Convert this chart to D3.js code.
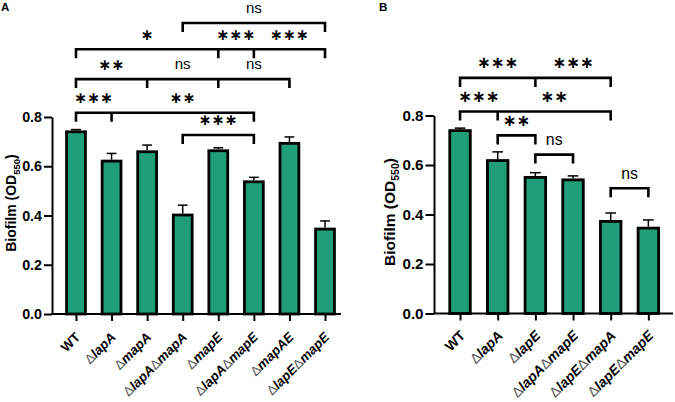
<!DOCTYPE html>
<html><head><meta charset="utf-8">
<script src="https://cdn.jsdelivr.net/npm/d3@7"></script>
<style>body{margin:0;background:#fff} svg{display:block}</style>
</head><body><svg id="c" width="675" height="402"></svg>
<script>
// ---- data ----
const catsA = ["WT","ΔlapA","ΔmapA","ΔlapAΔmapA","ΔmapE","ΔlapAΔmapE","ΔmapAE","ΔlapEΔmapE"];
const valsA = [0.740,0.621,0.659,0.402,0.663,0.537,0.693,0.345];
const errA  = [0.009,0.031,0.027,0.040,0.012,0.018,0.026,0.033];
const catsB = ["WT","ΔlapA","ΔlapE","ΔlapAΔmapE","ΔlapEΔmapA","ΔlapEΔmapE"];
const valsB = [0.739,0.618,0.550,0.540,0.372,0.345];
const errB  = [0.010,0.035,0.019,0.016,0.034,0.033];
const yTicks = [0, 0.2, 0.4, 0.6, 0.8];
// significance brackets: categories spanned (ends + inner ticks), level (OD units), label per segment
const bracketsA = [
  {pts:["WT","ΔlapA","ΔlapAΔmapE"], level:0.8175, labels:["***","**"]},
  {pts:["ΔlapAΔmapA","ΔlapAΔmapE"], level:0.727, labels:["***"]},
  {pts:["WT","ΔmapA","ΔmapE","ΔmapAE"], level:0.954, labels:["**","ns","ns"]},
  {pts:["WT","ΔmapE","ΔlapAΔmapE","ΔlapEΔmapE"], level:1.075, labels:["*","***","***"]},
  {pts:["ΔlapAΔmapA","ΔlapEΔmapE"], level:1.182, labels:["ns"]}
];
const bracketsB = [
  {pts:["WT","ΔlapE","ΔlapEΔmapA"], level:0.952, labels:["***","***"]},
  {pts:["WT","ΔlapA","ΔlapEΔmapA"], level:0.816, labels:["***","**"]},
  {pts:["ΔlapA","ΔlapE"], level:0.7195, labels:["**"]},
  {pts:["ΔlapE","ΔlapAΔmapE"], level:0.642, labels:["ns"]},
  {pts:["ΔlapEΔmapA","ΔlapEΔmapE"], level:0.506, labels:["ns"]}
];

const svg = d3.select("#c");
const GREEN = "#1f9e77";
const FONT = "'Liberation Sans', Arial, sans-serif";

function panel(o){
  const g = svg.append("g");
  const s = o.scale;
  const x = d3.scalePoint().domain(o.cats).range(o.xr).padding(0.5);
  const y = d3.scaleLinear().domain([0,0.8]).range(o.yr);
  const bw = x.step()*o.bwf;
  const y0 = y(0);

  // bars
  g.selectAll("rect.bar").data(o.cats).join("rect").attr("class","bar")
    .attr("x", d=>x(d)-bw/2).attr("y",(d,i)=>y(o.vals[i]))
    .attr("width",bw).attr("height",(d,i)=>y0-y(o.vals[i]))
    .attr("fill",GREEN).attr("stroke","#000").attr("stroke-width",2.8);
  // error bars (upper)
  const cw = bw*0.26;
  o.cats.forEach((d,i)=>{
    const top = y(o.vals[i]+o.errs[i]);
    g.append("line").attr("x1",x(d)).attr("x2",x(d)).attr("y1",y(o.vals[i])-1.4).attr("y2",top)
      .attr("stroke","#000").attr("stroke-width",1.5);
    g.append("line").attr("x1",x(d)-cw).attr("x2",x(d)+cw).attr("y1",top).attr("y2",top)
      .attr("stroke","#000").attr("stroke-width",1.5);
  });

  // y axis
  const ya = g.append("g").attr("transform",`translate(${o.ax},0)`)
    .call(d3.axisLeft(y).tickValues(yTicks).tickFormat(d3.format(".1f")).tickSize(8*s).tickSizeOuter(0).tickPadding(2));
  ya.selectAll("path,line").attr("stroke","#000").attr("stroke-width",2);
  ya.selectAll("text").attr("font-family",FONT).attr("font-weight","bold").attr("font-size",14.3*s).attr("fill","#000");

  // x axis
  g.append("line").attr("x1",o.ax).attr("x2",o.xEnd).attr("y1",y0).attr("y2",y0).attr("stroke","#000").attr("stroke-width",2);
  const xa = g.append("g").attr("transform",`translate(0,${y0})`)
    .call(d3.axisBottom(x).tickSize(7).tickFormat(""));
  xa.select(".domain").remove();
  xa.selectAll("line").attr("stroke","#000").attr("stroke-width",2);

  // x tick labels
  o.cats.forEach(d=>{
    const t = g.append("text").attr("text-anchor","end")
      .attr("transform",`translate(${x(d)+o.lx},${y0+o.ly}) rotate(-45)`)
      .attr("font-family",FONT).attr("font-size",o.lfs).attr("fill","#000");
    if(d.indexOf("Δ")<0){ t.append("tspan").attr("font-weight","bold").text(d); return; }
    d.split("Δ").forEach((p,k)=>{
      if(k===0) return;
      t.append("tspan").attr("font-weight","normal").attr("fill","#555").text("Δ");
      t.append("tspan").attr("font-weight","bold").attr("font-style","italic").text(p);
    });
  });

  // y label
  const yl = g.append("text").attr("text-anchor","middle")
    .attr("transform",`translate(${o.ylx},${o.yly}) rotate(-90)`)
    .attr("font-family",FONT).attr("font-weight","bold").attr("font-size",o.ylfs).attr("fill","#000");
  yl.append("tspan").text("Biofilm (OD");
  yl.append("tspan").attr("font-size",o.ylfs*0.68).attr("dy",o.ylfs*0.25).text("550");
  yl.append("tspan").attr("dy",-o.ylfs*0.25).text(")");

  // panel letter
  g.append("text").attr("x",o.letterX).attr("y",10.5).text(o.letter)
    .attr("font-family",FONT).attr("font-weight","bold").attr("font-size",11.5).attr("fill","#000");

  // brackets
  const tick = 9;
  o.brackets.forEach(b=>{
    const by = y(b.level);
    const xs = b.pts.map(p=>x(p));
    let path = `M${xs[0]},${by+tick}V${by}H${xs[xs.length-1]}V${by+tick}`;
    xs.slice(1,-1).forEach(xx=>{ path += `M${xx},${by}V${by+tick}`; });
    g.append("path").attr("d",path).attr("fill","none").attr("stroke","#000").attr("stroke-width",2.6);
    b.labels.forEach((lab,k)=>{
      const cx = (xs[k]+xs[k+1])/2;
      if(lab==="ns"){
        g.append("text").attr("x",cx).attr("y",by-9.6).attr("text-anchor","middle")
          .attr("font-family",FONT).attr("font-size",15*s).attr("fill","#000").text("ns");
      } else {
        g.append("text").attr("x",cx).attr("y",by-9.5).attr("text-anchor","middle")
          .attr("font-family","'DejaVu Sans', sans-serif").attr("font-weight","bold")
          .attr("font-size",15.5*s).attr("fill","#000").text(lab.replace(/\*/g,"∗"));
      }
    });
  });
}

panel({cats:catsA, vals:valsA, errs:errA, brackets:bracketsA, scale:1,
  xr:[58.2,342.8], yr:[314,117], bwf:0.53, ax:52, xEnd:341,
  lx:5, ly:24, lfs:13.3, ylx:16, yly:203, ylfs:14, letter:"A", letterX:1});
panel({cats:catsB, vals:valsB, errs:errB, brackets:bracketsB, scale:1.06,
  xr:[441.2,667.2], yr:[313.5,115.5], bwf:0.545, ax:434, xEnd:673,
  lx:6, ly:23, lfs:14, ylx:395, yly:212, ylfs:15.5, letter:"B", letterX:379});
</script></body></html>
